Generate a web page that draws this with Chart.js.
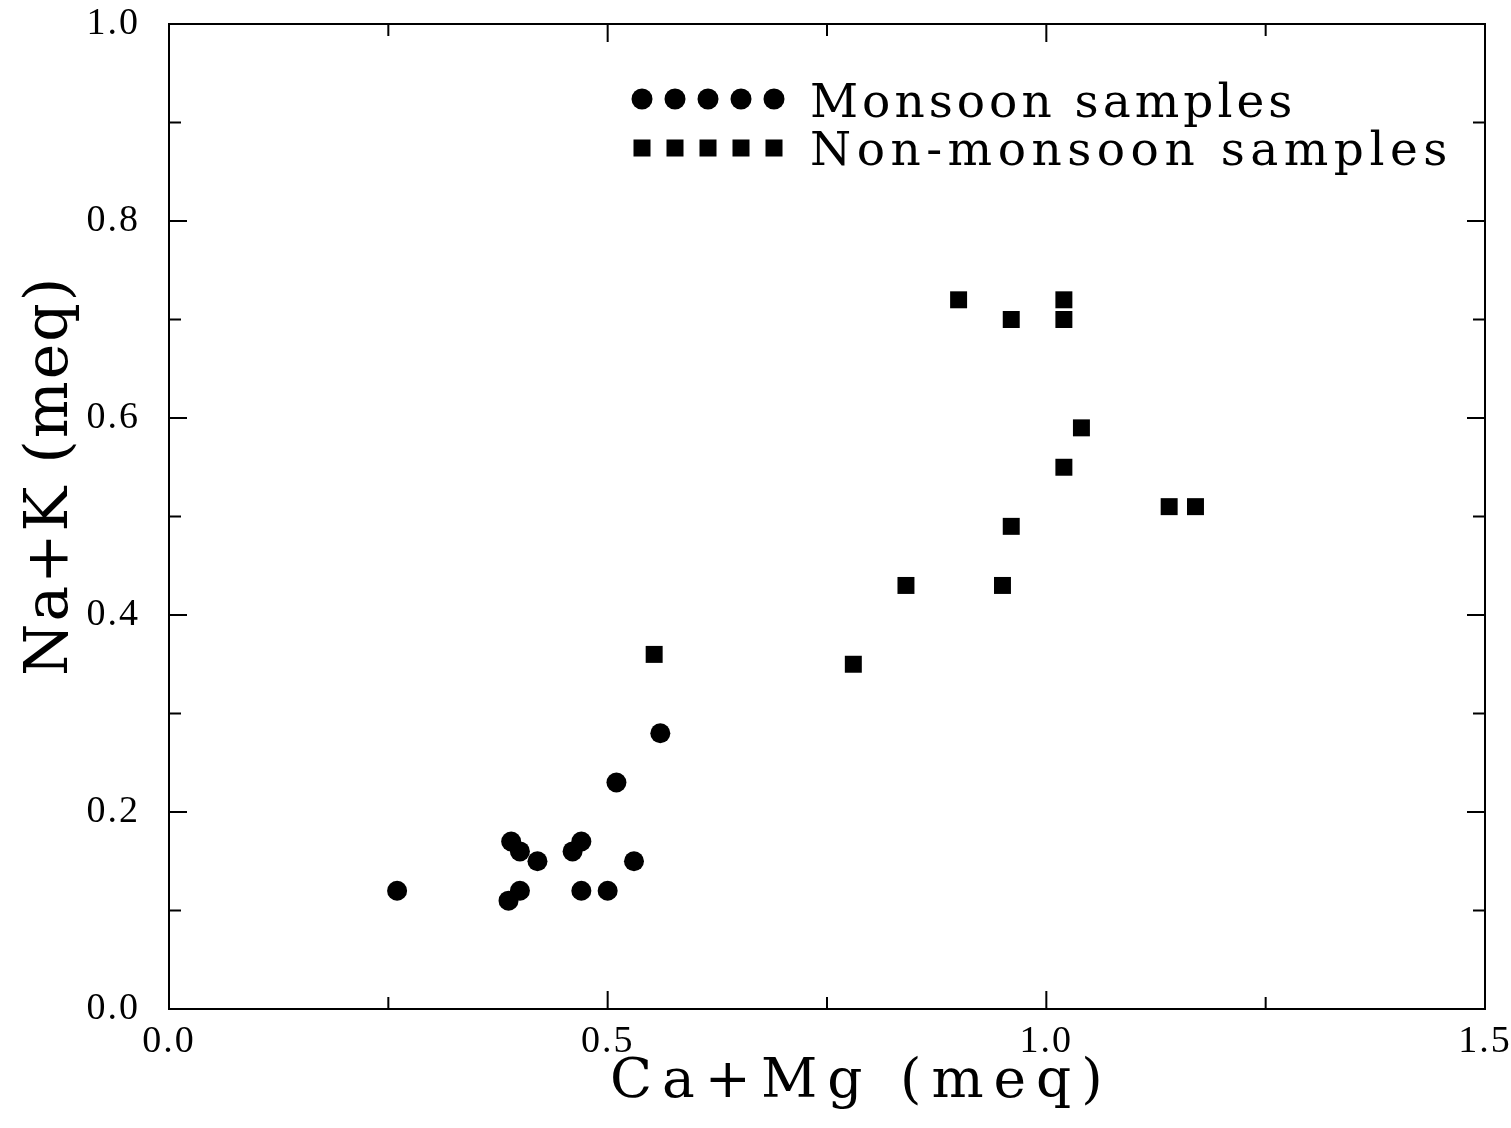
<!DOCTYPE html>
<html><head><meta charset="utf-8">
<script src="https://cdn.jsdelivr.net/npm/chart.js"></script>
<style>html,body{margin:0;padding:0;background:#fff;}#wrap{width:1511px;height:1128px;}</style>
</head><body><div id="wrap"><canvas id="c" width="1511" height="1128"></canvas></div>
<script>
// ---- data ----
const monsoonX = [0.26, 0.39, 0.40, 0.42, 0.40, 0.387, 0.47, 0.46, 0.47, 0.50, 0.53, 0.51, 0.56];
const monsoonY = [0.12, 0.17, 0.16, 0.15, 0.12, 0.11, 0.17, 0.16, 0.12, 0.12, 0.15, 0.23, 0.28];
const nonMonsoonX = [0.90, 1.02, 0.96, 1.02, 1.04, 1.02, 1.14, 1.17, 0.96, 0.84, 0.95, 0.78, 0.553];
const nonMonsoonY = [0.72, 0.72, 0.70, 0.70, 0.59, 0.55, 0.51, 0.51, 0.49, 0.43, 0.43, 0.35, 0.36];
const xTickLabels = ['0.0', '0.5', '1.0', '1.5'];
const yTickLabels = ['0.0', '0.2', '0.4', '0.6', '0.8', '1.0'];
const seriesNames = ['Monsoon samples', 'Non-monsoon samples'];
const xTitle = 'Ca+Mg (meq)';
const yTitle = 'Na+K (meq)';

const FONT = '"DejaVu Serif", "Liberation Serif", serif';
const TICKFONT = '"Liberation Serif", "DejaVu Serif", serif';

const textSpacing = {
  id: 'textSpacing',
  beforeDraw(chart) { chart.ctx.letterSpacing = '2px'; }
};

const framePlugin = {
  id: 'frame',
  afterDraw(chart) {
    const ctx = chart.ctx, a = chart.chartArea;
    const xs = chart.scales.x, ys = chart.scales.y;
    ctx.save();
    ctx.strokeStyle = '#000';
    ctx.lineWidth = 2;
    ctx.strokeRect(a.left, a.top, a.right - a.left, a.bottom - a.top);
    ctx.beginPath();
    for (let i = 0; i <= 6; i++) {
      const v = i * 0.25;
      const px = xs.getPixelForValue(v);
      const len = (i % 2 === 0) ? 18 : 12;
      ctx.moveTo(px, a.bottom); ctx.lineTo(px, a.bottom - len);
      ctx.moveTo(px, a.top); ctx.lineTo(px, a.top + len);
    }
    for (let i = 0; i <= 10; i++) {
      const v = i * 0.1;
      const py = ys.getPixelForValue(v);
      const len = (i % 2 === 0) ? 18 : 12;
      ctx.moveTo(a.left, py); ctx.lineTo(a.left + len, py);
      ctx.moveTo(a.right, py); ctx.lineTo(a.right - len, py);
    }
    ctx.stroke();
    ctx.restore();
  }
};

const titlesPlugin = {
  id: 'titles',
  afterDraw(chart) {
    const ctx = chart.ctx;
    ctx.save();
    ctx.fillStyle = '#000';
    ctx.textBaseline = 'alphabetic';
    ctx.font = '55px ' + FONT;
    ctx.letterSpacing = '10px';
    ctx.textAlign = 'left';
    ctx.fillText(xTitle, 610, 1097);
    ctx.restore();
    ctx.save();
    ctx.fillStyle = '#000';
    ctx.font = '60px ' + FONT;
    ctx.letterSpacing = '2px';
    ctx.textAlign = 'center';
    ctx.textBaseline = 'alphabetic';
    ctx.translate(67, 476);
    ctx.rotate(-Math.PI / 2);
    ctx.fillText(yTitle, 0, 0);
    ctx.restore();
  }
};

const legendPlugin = {
  id: 'customLegend',
  afterDraw(chart) {
    const ctx = chart.ctx;
    const mx = [642, 675, 708, 741, 774];
    ctx.save();
    ctx.fillStyle = '#000';
    mx.forEach(x => { ctx.beginPath(); ctx.arc(x, 99, 10.5, 0, Math.PI * 2); ctx.fill(); });
    mx.forEach(x => { ctx.fillRect(x - 8.5, 139.5, 17, 17); });
    ctx.font = '47px ' + FONT;
    ctx.textAlign = 'left';
    ctx.textBaseline = 'alphabetic';
    ctx.letterSpacing = '4px';
    ctx.fillText(seriesNames[0], 810, 117);
    ctx.letterSpacing = '5.5px';
    ctx.fillText(seriesNames[1], 810, 165);
    ctx.restore();
  }
};

new Chart(document.getElementById('c').getContext('2d'), {
  type: 'scatter',
  data: {
    datasets: [
      {
        label: seriesNames[0],
        data: monsoonX.map((x, i) => ({ x: x, y: monsoonY[i] })),
        pointStyle: 'circle', pointRadius: 10, pointHoverRadius: 10,
        backgroundColor: '#000', borderColor: '#000', borderWidth: 0
      },
      {
        label: seriesNames[1],
        data: nonMonsoonX.map((x, i) => ({ x: x, y: nonMonsoonY[i] })),
        pointStyle: 'rect', pointRadius: 12, pointHoverRadius: 12,
        backgroundColor: '#000', borderColor: '#000', borderWidth: 0
      }
    ]
  },
  options: {
    responsive: false,
    animation: false,
    events: [],
    layout: { padding: { top: 24, right: 26, left: 0, bottom: 0 } },
    plugins: { legend: { display: false }, tooltip: { enabled: false } },
    scales: {
      x: {
        type: 'linear', min: 0, max: 1.5,
        grid: { display: false, drawTicks: false },
        border: { display: false },
        ticks: {
          stepSize: 0.5, padding: 10, color: '#000', maxRotation: 0,
          font: { family: TICKFONT, size: 38 },
          callback: v => xTickLabels[Math.round(v / 0.5)]
        },
        afterFit(s) { s.height = 119; s.paddingLeft = 0; s.paddingRight = 0; }
      },
      y: {
        type: 'linear', min: 0, max: 1,
        grid: { display: false, drawTicks: false },
        border: { display: false },
        ticks: {
          stepSize: 0.2, padding: 29, color: '#000',
          font: { family: TICKFONT, size: 38 },
          callback: v => yTickLabels[Math.round(v / 0.2)]
        },
        afterFit(s) { s.width = 169; s.paddingTop = 0; s.paddingBottom = 0; }
      }
    }
  },
  plugins: [textSpacing, framePlugin, titlesPlugin, legendPlugin]
});
</script>
</body></html>
